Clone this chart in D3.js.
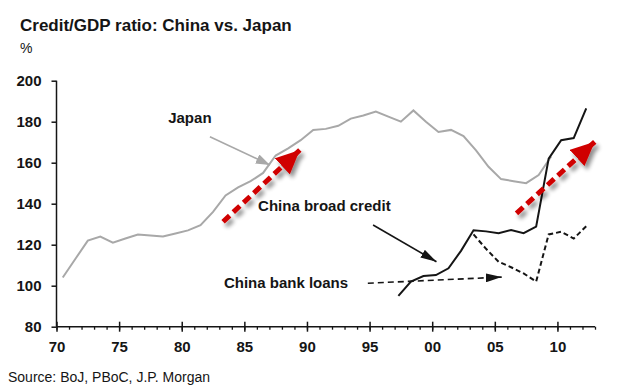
<!DOCTYPE html>
<html><head><meta charset="utf-8">
<script src="https://cdn.jsdelivr.net/npm/d3@7"></script>
<style>
body{margin:0;background:#fff;}
svg{display:block;font-family:"Liberation Sans",Arial,sans-serif;}
</style></head>
<body><svg id="c" width="617" height="390"></svg>
<script>
// ---- data ----
const japanYears = d3.range(1970, 2010);
const japanValues = [104,113,122,124,121,123,125,124.5,124,125.5,127,129.5,136,144,148,151,155,163.5,167,171,
  176,176.5,178,181.5,183,185,182.5,180,185.5,180,175,176,173,166,158,152,151,150,154,163];
const broadYears = d3.range(1997, 2013);
const broadValues = [95,102,104.7,105.2,108.5,117,127,126.5,125.6,127.2,125.6,128.8,162,171,172,186.5];
const loanYears = d3.range(2003, 2013);
const loanValues = [125,118,111.7,109,106,102,125,126.3,123,129];
const yTicks = [80,100,120,140,160,180,200];
const xMajor = [1970,1975,1980,1985,1990,1995,2000,2005,2010];
const xLabels = ["70","75","80","85","90","95","00","05","10"];

const svg = d3.select("#c");
const x = d3.scaleLinear().domain([1970, 2013]).range([56.5, 595]);
const y = d3.scaleLinear().domain([80, 200]).range([326.7, 80.7]);
const ink = "#151515";

// defs: markers + shadow
const defs = svg.append("defs");
function marker(id, color, w, h){
  defs.append("marker").attr("id", id).attr("viewBox", `0 0 ${w} ${h}`)
    .attr("refX", w).attr("refY", h/2).attr("markerWidth", w).attr("markerHeight", h)
    .attr("markerUnits", "userSpaceOnUse").attr("orient", "auto")
    .append("path").attr("d", `M0,0L${w},${h/2}L0,${h}Z`).attr("fill", color);
}
marker("mGray", "#a8a8a8", 14, 10);
marker("mBlack", ink, 16, 9);
marker("mRed", "#d00000", 24, 22);
const f = defs.append("filter").attr("id","sh").attr("x","-30%").attr("y","-30%").attr("width","160%").attr("height","160%");
f.append("feGaussianBlur").attr("in","SourceAlpha").attr("stdDeviation",2.2).attr("result","b");
f.append("feOffset").attr("in","b").attr("dx",3).attr("dy",4).attr("result","o");
f.append("feComponentTransfer").attr("in","o").attr("result","o2").append("feFuncA").attr("type","linear").attr("slope",0.45);
const fm = f.append("feMerge"); fm.append("feMergeNode").attr("in","o2"); fm.append("feMergeNode").attr("in","SourceGraphic");

// title
svg.append("text").attr("x", 20).attr("y", 31).attr("font-size", 17).attr("font-weight", "bold")
  .attr("fill", ink).text("Credit/GDP ratio: China vs. Japan");
svg.append("text").attr("x", 20).attr("y", 53).attr("font-size", 14).attr("fill", ink).text("%");

// axes
const yAxis = svg.append("g").attr("transform", `translate(${x(1970)},0)`)
  .call(d3.axisLeft(y).tickValues(yTicks).tickSize(5).tickPadding(10));
yAxis.select(".domain").attr("stroke", ink).attr("stroke-width", 1.5).attr("d", `M0,${y(200)}V${y(80)}`);
yAxis.selectAll(".tick line").attr("stroke", ink).attr("stroke-width", 1.5);
yAxis.selectAll(".tick text").attr("font-size", 15).attr("font-weight", "bold").attr("fill", ink)
  .attr("font-family", "Liberation Sans, Arial, sans-serif");

const xMinor = svg.append("g").attr("transform", `translate(0,${y(80)})`)
  .call(d3.axisBottom(x).tickValues(d3.range(1970, 2014)).tickSize(3).tickFormat(""));
xMinor.select(".domain").attr("stroke", ink).attr("stroke-width", 1.5).attr("d", `M${x(1970)},0H${x(2013)}`);
xMinor.selectAll(".tick line").attr("stroke", ink).attr("stroke-width", 1.3);
const xAxis = svg.append("g").attr("transform", `translate(0,${y(80)})`)
  .call(d3.axisBottom(x).tickValues(xMajor).tickSize(5).tickPadding(10)
    .tickFormat((d, i) => xLabels[i]));
xAxis.select(".domain").remove();
xAxis.selectAll(".tick line").attr("stroke", ink).attr("stroke-width", 1.5).attr("y1", -5);
xAxis.selectAll(".tick text").attr("font-size", 15).attr("font-weight", "bold").attr("fill", ink)
  .attr("font-family", "Liberation Sans, Arial, sans-serif");

// lines
const line = (off) => d3.line().x(d => x(d[0] + off)).y(d => y(d[1]));
svg.append("path").datum(d3.zip(japanYears, japanValues)).attr("d", line(0.5))
  .attr("fill", "none").attr("stroke", "#a8a8a8").attr("stroke-width", 2);
svg.append("path").datum(d3.zip(loanYears, loanValues)).attr("d", line(0.3))
  .attr("fill", "none").attr("stroke", ink).attr("stroke-width", 2).attr("stroke-dasharray", "5,3");
svg.append("path").datum(d3.zip(broadYears, broadValues)).attr("d", line(0.3))
  .attr("fill", "none").attr("stroke", ink).attr("stroke-width", 2);

// annotations (data coordinates)
const labels = [
  {t: "Japan", yr: 1980.65, v: 181.8, anchor: "middle"},
  {t: "China broad credit", yr: 1986.1, v: 138.9, anchor: "start"},
  {t: "China bank loans", yr: 1983.37, v: 101.2, anchor: "start"}
];
svg.selectAll("text.lab").data(labels).join("text").attr("class", "lab")
  .attr("x", d => x(d.yr)).attr("y", d => y(d.v)).attr("dy", "0.35em")
  .attr("text-anchor", d => d.anchor).attr("font-size", 15).attr("font-weight", "bold")
  .attr("fill", ink).text(d => d.t);

const arrows = [
  {a: [1982.25, 172.7], b: [1987.04, 158.9], color: "#a8a8a8", w: 1.6, dash: null, m: "mGray", sh: false},
  {a: [1995.28, 129.6], b: [2000.34, 111.7], color: ink, w: 1.6, dash: null, m: "mBlack", sh: false},
  {a: [1994.86, 101.2], b: [2005.55, 104.2], color: ink, w: 1.6, dash: "6,4", m: "mBlack", sh: false},
  {a: [1983.3, 131.2], b: [1989.43, 166.2], color: "#d00000", w: 5, dash: "9,5", m: "mRed", sh: true},
  {a: [2006.73, 135.3], b: [2012.98, 170.2], color: "#d00000", w: 5, dash: "9,5", m: "mRed", sh: true}
];
arrows.forEach(d => {
  const g = svg.append("g");
  if (d.sh) g.attr("filter", "url(#sh)");
  g.append("line").attr("x1", x(d.a[0])).attr("y1", y(d.a[1])).attr("x2", x(d.b[0])).attr("y2", y(d.b[1]))
    .attr("stroke", d.color).attr("stroke-width", d.w).attr("stroke-dasharray", d.dash)
    .attr("marker-end", `url(#${d.m})`);
});

// source
svg.append("text").attr("x", 8).attr("y", 382).attr("font-size", 14).attr("fill", ink)
  .text("Source: BoJ, PBoC, J.P. Morgan");
</script></body></html>
